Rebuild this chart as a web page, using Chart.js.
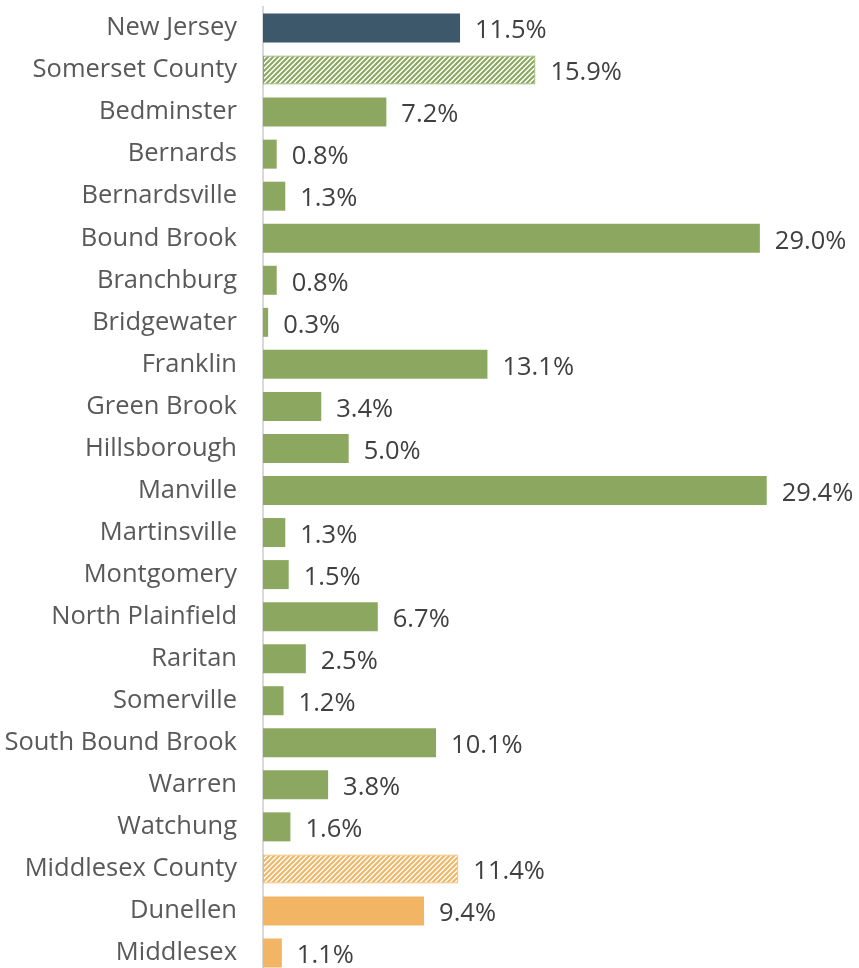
<!DOCTYPE html>
<html>
<head>
<meta charset="utf-8">
<script src="https://cdn.jsdelivr.net/npm/chart.js@4"></script>
<style>
  html,body{margin:0;padding:0;background:#fff;overflow:hidden}
  #wrap{width:859px;height:974px;position:relative}
</style>
</head>
<body>
<div id="wrap"><canvas id="chart"></canvas></div>
<script>
// data
const places=['New Jersey','Somerset County','Bedminster','Bernards','Bernardsville','Bound Brook','Branchburg','Bridgewater','Franklin','Green Brook','Hillsborough','Manville','Martinsville','Montgomery','North Plainfield','Raritan','Somerville','South Bound Brook','Warren','Watchung','Middlesex County','Dunellen','Middlesex'];
const pct=[11.5,15.9,7.2,0.8,1.3,29.0,0.8,0.3,13.1,3.4,5.0,29.4,1.3,1.5,6.7,2.5,1.2,10.1,3.8,1.6,11.4,9.4,1.1];
// group per row: state / county (hatched) / town
const groups=['state','somerset-cty','somerset','somerset','somerset','somerset','somerset','somerset','somerset','somerset','somerset','somerset','somerset','somerset','somerset','somerset','somerset','somerset','somerset','somerset','middlesex-cty','middlesex','middlesex'];

const NAVY='#3D576B', GREEN='#8CA860', ORANGE='#F2B563';
const FONT='"Open Sans", "Noto Sans", sans-serif';

function hatch(color){
  const c=document.createElement('canvas');c.width=5;c.height=5;
  const x=c.getContext('2d');
  x.strokeStyle=color;x.lineWidth=2.1;
  x.beginPath();
  x.moveTo(-1,6);x.lineTo(6,-1);
  x.moveTo(-1,1);x.lineTo(1,-1);
  x.moveTo(4,6);x.lineTo(6,4);
  x.stroke();
  return x.createPattern(c,'repeat');
}
const fillFor=g=>({state:NAVY,'somerset-cty':hatch(GREEN),somerset:GREEN,'middlesex-cty':hatch(ORANGE),middlesex:ORANGE})[g];
const edgeFor=g=>g.startsWith('somerset')?GREEN:g.startsWith('middlesex')?ORANGE:NAVY;

// value labels after each bar
const valueLabels={
  id:'valueLabels',
  afterDatasetsDraw(chart){
    const ctx=chart.ctx;
    const meta=chart.getDatasetMeta(0);
    ctx.save();
    ctx.font='25.5px '+FONT;
    ctx.fillStyle='#404040';
    ctx.textBaseline='middle';
    ctx.textAlign='left';
    meta.data.forEach((bar,i)=>{
      ctx.fillText(pct[i].toFixed(1)+'%',bar.x+15,bar.y+3);
    });
    ctx.restore();
  }
};

new Chart(document.getElementById('chart'),{
  type:'bar',
  data:{labels:places,datasets:[{
    data:pct,
    backgroundColor:groups.map(fillFor),
    borderColor:groups.map(edgeFor),
    borderWidth:groups.map(g=>g.endsWith('cty')?1:0),
    borderSkipped:false,
    categoryPercentage:1,
    barPercentage:0.69
  }]},
  options:{
    indexAxis:'y',responsive:true,maintainAspectRatio:false,animation:false,
    layout:{padding:{top:7,right:82,bottom:0,left:0}},
    plugins:{legend:{display:false},tooltip:{enabled:false}},
    scales:{
      x:{display:false,min:0,max:30},
      y:{
        grid:{display:false,drawTicks:false},
        border:{display:true,color:'#D9D9D9',width:2},
        ticks:{font:{family:FONT,size:25.5},color:'#595959',padding:26,autoSkip:false},
        afterFit:s=>{s.width=263;s.paddingTop=0;s.paddingBottom=0;}
      }
    }
  },
  plugins:[valueLabels]
});
</script>
</body>
</html>
